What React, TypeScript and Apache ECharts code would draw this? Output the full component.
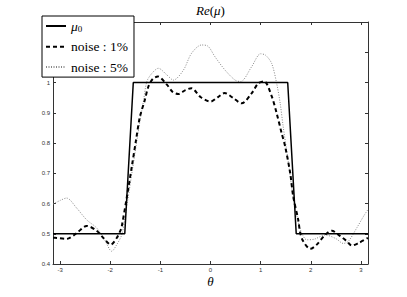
import React, { useEffect, useRef } from "react";
import * as echarts from "echarts";

const PI = Math.PI;
const xTickValues = [-3, -2, -1, 0, 1, 2, 3];
const yTickValues = [0.4, 0.5, 0.6, 0.7, 0.8, 0.9, 1.0, 1.1, 1.2];
const yLabelValues = [0.4, 0.5, 0.6, 0.7, 0.8, 0.9, 1.0];

const mu0Theta = [-PI, -1.71, -1.54, 1.54, 1.71, PI];
const mu0Val = [0.5, 0.5, 1.0, 1.0, 0.5, 0.5];

const noise1Theta = [
  -3.14, -3.07, -2.87, -2.67, -2.47, -2.27, -2.12, -1.99, -1.87, -1.79, -1.77,
  -1.67, -1.57, -1.49, -1.41, -1.31, -1.24, -1.15, -1.05, -0.87, -0.75, -0.64,
  -0.5, -0.38, -0.2, 0.0, 0.15, 0.28, 0.46, 0.62, 0.82, 0.95, 1.07, 1.22, 1.32,
  1.42, 1.49, 1.59, 1.65, 1.75, 1.79, 1.85, 1.99, 2.12, 2.29, 2.42, 2.58, 2.72,
  2.82, 2.95, 3.14,
];
const noise1Val = [
  0.487, 0.486, 0.483, 0.502, 0.526, 0.51, 0.483, 0.464, 0.486, 0.513, 0.524,
  0.62, 0.722, 0.805, 0.885, 0.942, 0.986, 1.012, 1.02, 0.993, 0.968, 0.962,
  0.975, 0.981, 0.952, 0.937, 0.952, 0.965, 0.948, 0.931, 0.964, 0.997, 1.004,
  0.955, 0.898, 0.832, 0.788, 0.7, 0.623, 0.546, 0.502, 0.475, 0.45, 0.464,
  0.497, 0.51, 0.493, 0.475, 0.461, 0.469, 0.486,
];

const noise5Theta = [
  -3.14, -3.0, -2.87, -2.67, -2.47, -2.27, -2.11, -1.97, -1.87, -1.77, -1.7,
  -1.55, -1.4, -1.34, -1.27, -1.17, -1.04, -0.87, -0.74, -0.54, -0.38, -0.18,
  -0.05, 0.09, 0.29, 0.49, 0.6, 0.82, 1.0, 1.1, 1.22, 1.32, 1.39, 1.45, 1.55,
  1.65, 1.75, 1.82, 1.92, 2.07, 2.29, 2.5, 2.65, 2.75, 2.92, 3.05, 3.14,
];
const noise5Val = [
  0.598, 0.61, 0.618, 0.585, 0.546, 0.519, 0.48, 0.442, 0.464, 0.497, 0.56,
  0.72, 0.88, 0.935, 1.003, 1.03, 1.047, 1.025, 1.008, 1.041, 1.096, 1.124,
  1.12, 1.085, 1.041, 1.008, 1.003, 1.052, 1.095, 1.09, 1.063, 0.997, 0.931,
  0.854, 0.74, 0.62, 0.54, 0.502, 0.48, 0.482, 0.496, 0.484, 0.468, 0.475,
  0.52, 0.557, 0.58,
];

const seriesNames = ["mu0", "noise : 1%", "noise : 5%"];

const pairs = (xs: number[], ys: number[]) => xs.map((x, i) => [x, ys[i]]);

const AXIS_COLOR = "#333";
const LABEL_FONT = "Liberation Sans";
const SERIF = "Liberation Serif";

export default function App() {
  const ref = useRef<HTMLDivElement>(null);
  useEffect(() => {
    document.body.style.margin = "0";
    if (!ref.current) return;
    const chart = echarts.init(ref.current, undefined, { renderer: "svg" });
    const xAxisCommon = {
      type: "value",
      min: -PI,
      max: PI,
      axisLine: { show: true, onZero: false, lineStyle: { color: AXIS_COLOR, width: 1 } },
      axisTick: { show: true, inside: true, length: 3, customValues: xTickValues, lineStyle: { color: AXIS_COLOR } },
      splitLine: { show: false },
    };
    const yAxisCommon = {
      type: "value",
      min: 0.4,
      max: 1.2,
      axisLine: { show: true, onZero: false, lineStyle: { color: AXIS_COLOR, width: 1 } },
      axisTick: { show: true, inside: true, length: 3, customValues: yTickValues, lineStyle: { color: AXIS_COLOR } },
      splitLine: { show: false },
    };
    chart.setOption({
      animation: false,
      backgroundColor: "#fff",
      grid: { left: 53, right: 39, top: 22, bottom: 33 },
      xAxis: [
        {
          ...xAxisCommon,
          position: "bottom",
          axisLabel: {
            show: true,
            customValues: xTickValues,
            fontSize: 6,
            color: "#333",
            fontFamily: LABEL_FONT,
            margin: 3,
            formatter: (v: number) => String(Math.round(v)),
          },
          name: "θ",
          nameLocation: "middle",
          nameGap: 11,
          nameMoveOverlap: false,
          nameTextStyle: { fontFamily: SERIF, fontStyle: "italic", fontSize: 13, color: "#000" },
        },
        { ...xAxisCommon, position: "top", axisLabel: { show: false } },
      ],
      yAxis: [
        {
          ...yAxisCommon,
          position: "left",
          axisLabel: {
            show: true,
            customValues: yLabelValues,
            fontSize: 6,
            color: "#333",
            fontFamily: LABEL_FONT,
            margin: 3,
            formatter: (v: number) => {
              const r = Math.round(v * 10) / 10;
              return r === 1 ? "1" : r.toFixed(1);
            },
          },
        },
        { ...yAxisCommon, position: "right", axisLabel: { show: false } },
      ],
      legend: {
        show: true,
        orient: "vertical",
        left: 42,
        top: 16,
        backgroundColor: "#fff",
        borderColor: "#000",
        borderWidth: 1,
        borderRadius: 0,
        padding: [3, 6, 3, 3],
        itemWidth: 20,
        itemHeight: 12,
        itemGap: 6.3,
        itemStyle: { opacity: 0, color: "transparent", borderWidth: 0 },
        data: seriesNames,
        formatter: (name: string) => (name === "mu0" ? "{i|μ}{s|0}" : name),
        textStyle: {
          fontFamily: SERIF,
          fontSize: 13.5,
          fontWeight: "normal",
          color: "#000",
          rich: {
            i: { fontFamily: SERIF, fontStyle: "italic", fontSize: 13.5, color: "#000" },
            s: { fontFamily: SERIF, fontSize: 9, color: "#000", verticalAlign: "bottom", padding: [6, 0, 0, 0] },
          },
        },
      },
      graphic: [
        {
          type: "text",
          x: 210.5,
          y: 10,
          style: {
            text: "{i|Re}{n|(}{i|μ}{n|)}",
            align: "center",
            verticalAlign: "middle",
            rich: {
              i: { fontFamily: SERIF, fontStyle: "italic", fontSize: 13, fill: "#000" },
              n: { fontFamily: SERIF, fontSize: 13, fill: "#000" },
            },
          },
        },
      ],
      series: [
        {
          name: seriesNames[0],
          type: "line",
          data: pairs(mu0Theta, mu0Val),
          showSymbol: false,
          symbol: "none",
          lineStyle: { color: "#000", width: 1.5, type: "solid" },
          itemStyle: { color: "#000" },
          z: 3,
        },
        {
          name: seriesNames[1],
          type: "line",
          data: pairs(noise1Theta, noise1Val),
          showSymbol: false,
          symbol: "none",
          smooth: 0.3,
          lineStyle: { color: "#000", width: 2, type: [4, 3] },
          itemStyle: { color: "#000" },
          z: 4,
        },
        {
          name: seriesNames[2],
          type: "line",
          data: pairs(noise5Theta, noise5Val),
          showSymbol: false,
          symbol: "none",
          smooth: 0.3,
          lineStyle: { color: "#888", width: 1, type: [1, 1.5] },
          itemStyle: { color: "#888" },
          z: 2,
        },
      ],
    });
    return () => chart.dispose();
  }, []);
  return <div ref={ref} style={{ width: 407, height: 297 }} />;
}
